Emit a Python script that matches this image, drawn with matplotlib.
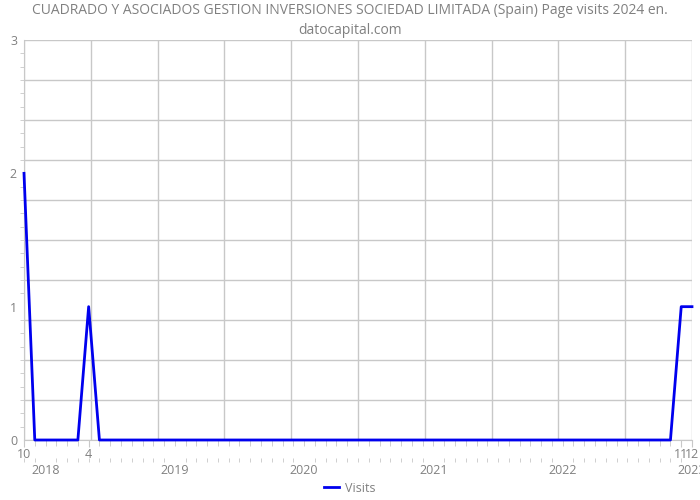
import matplotlib

matplotlib.use("Agg")

import matplotlib.pyplot as plt
import numpy as np
from matplotlib.lines import Line2D

# monthly page visits, Oct 2017 .. Dec 2022
months = [
    "2017-10", "2017-11", "2017-12",
    "2018-01", "2018-02", "2018-03", "2018-04", "2018-05", "2018-06",
    "2018-07", "2018-08", "2018-09", "2018-10", "2018-11", "2018-12",
    "2019-01", "2019-02", "2019-03", "2019-04", "2019-05", "2019-06",
    "2019-07", "2019-08", "2019-09", "2019-10", "2019-11", "2019-12",
    "2020-01", "2020-02", "2020-03", "2020-04", "2020-05", "2020-06",
    "2020-07", "2020-08", "2020-09", "2020-10", "2020-11", "2020-12",
    "2021-01", "2021-02", "2021-03", "2021-04", "2021-05", "2021-06",
    "2021-07", "2021-08", "2021-09", "2021-10", "2021-11", "2021-12",
    "2022-01", "2022-02", "2022-03", "2022-04", "2022-05", "2022-06",
    "2022-07", "2022-08", "2022-09", "2022-10", "2022-11", "2022-12",
]
visits = [
    2, 0, 0,
    0, 0, 0, 1, 0, 0,
    0, 0, 0, 0, 0, 0,
    0, 0, 0, 0, 0, 0,
    0, 0, 0, 0, 0, 0,
    0, 0, 0, 0, 0, 0,
    0, 0, 0, 0, 0, 0,
    0, 0, 0, 0, 0, 0,
    0, 0, 0, 0, 0, 0,
    0, 0, 0, 0, 0, 0,
    0, 0, 0, 0, 1, 1,
]
year_labels = ["2018", "2019", "2020", "2021", "2022", "2023"]
year_months = ["2017-12", "2018-12", "2019-12", "2020-12", "2021-12", "2022-12"]
y_labels = ["0", "1", "2", "3"]

title = "CUADRADO Y ASOCIADOS GESTION INVERSIONES SOCIEDAD LIMITADA (Spain) Page visits 2024 en.\ndatocapital.com"

TEXT = "#808080"
GRID = "#c8c8c8"
LINE = "#0000ee"

plt.rcParams["font.family"] = ["Open Sans", "DejaVu Sans"]

x = np.arange(len(months))
y = np.array(visits, dtype=float)

fig = plt.figure(figsize=(7, 5), dpi=100)
ax = fig.add_axes([24 / 700, 60 / 500, 668 / 700, 400 / 500])

ax.set_xlim(0, len(months) - 1)
ax.set_ylim(0, 3)

for gy in np.linspace(0, 3, 11):
    ax.axhline(gy, color=GRID, linewidth=1, zorder=0)
for gx in np.linspace(0, len(months) - 1, 11):
    ax.axvline(gx, color=GRID, linewidth=1, zorder=0)

ax.plot(x, y, color=LINE, linewidth=2, zorder=3, clip_on=False)

for side in ["top", "right"]:
    ax.spines[side].set_visible(False)
ax.spines["left"].set_color(GRID)
ax.spines["bottom"].set_color(GRID)

# month labels only for months with visits
label_idx = [i for i, v in enumerate(visits) if v > 0]
ax.set_xticks(label_idx)
ax.set_xticklabels([str(int(months[i][5:])) for i in label_idx])
ax.set_xticks(x, minor=True)
ax.tick_params(axis="x", which="major", length=5, color=GRID, labelcolor=TEXT,
               labelsize=9, pad=1)
ax.tick_params(axis="x", which="minor", length=4, color=GRID)

ax.set_yticks([float(v) for v in y_labels])
ax.set_yticklabels(y_labels)
ax.set_yticks(np.arange(0, 3.01, 0.1), minor=True)
ax.tick_params(axis="y", which="major", length=0, labelcolor=TEXT, labelsize=9, pad=5)
ax.tick_params(axis="y", which="minor", length=3, color=GRID)

# year row
sec = ax.secondary_xaxis(-0.045)
sec.spines["bottom"].set_visible(False)
sec.set_xticks([months.index(m) for m in year_months])
sec.set_xticklabels(year_labels)
sec.set_xticks(x, minor=True)
sec.tick_params(axis="x", which="major", length=0, labelcolor=TEXT, labelsize=9, pad=4)
sec.tick_params(axis="x", which="minor", length=3, color=GRID)

fig.suptitle(title, color=TEXT, fontsize=10, y=0.995, linespacing=1.5)

handle = Line2D([0], [0], color=LINE, linewidth=2)
fig.legend([handle], ["Visits"], loc="lower center", bbox_to_anchor=(0.5, -0.012),
           frameon=False, fontsize=9, labelcolor=TEXT, handlelength=1.2, handletextpad=0.5)

fig.savefig("out.png", dpi=100)
